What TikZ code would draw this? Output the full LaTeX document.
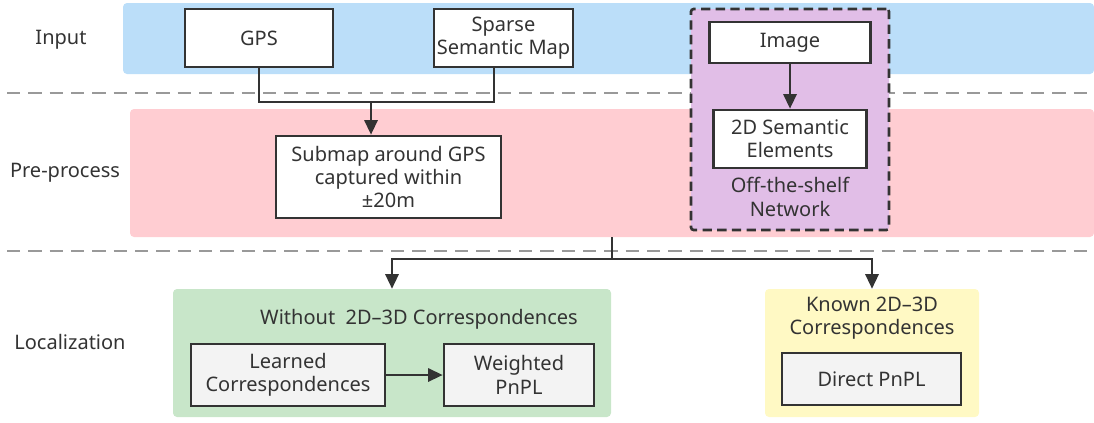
\documentclass[tikz,border=0pt]{standalone}
\usepackage{fontspec}
\setmainfont{Noto Sans}
\usepackage{tikz}
\usetikzlibrary{positioning,arrows.meta,shapes,fit,backgrounds,calc}
\definecolor{inkdark}{HTML}{333333}
\definecolor{sepgray}{HTML}{999999}
\definecolor{inputblue}{HTML}{BBDEF9}
\definecolor{prepink}{HTML}{FFCDD2}
\definecolor{netpurple}{HTML}{E1BEE7}
\definecolor{locgreen}{HTML}{C8E6C9}
\definecolor{knownyellow}{HTML}{FFF9C4}
\definecolor{boxgray}{HTML}{F3F3F3}

\tikzset{
  band/.style={fill=#1,draw=none,rounded corners=3pt,inner sep=0pt},
  stagebox/.style={draw=inkdark,line width=2pt,fill=white,align=center,
        inner sep=2pt,text=inkdark},
  graybox/.style={stagebox,fill=boxgray},
  conn/.style={draw=inkdark,line width=1.7pt},
  arr/.style={conn,-{Triangle[length=11pt,width=10pt]}},
  sepline/.style={draw=sepgray,line width=1.1pt,dash pattern=on 10pt off 6pt},
  lbl/.style={text=inkdark,align=center}
}

\begin{document}
\begin{tikzpicture}[x=0.75pt,y=-0.75pt,font=\fontsize{15}{17.5}\selectfont]
  \useasboundingbox (0,0) rectangle (1094,422);

  % stage bands
  \node[band=inputblue,minimum width=728.25pt,minimum height=53.25pt] (inp) at (608.5,38.5) {};
  \node[band=prepink,minimum width=723pt,minimum height=96pt] (pre) at (612,173) {};
  \draw[sepline] (7,93) -- (1094,93);
  \draw[sepline] (7,251) -- (1094,251);
  \node[band=locgreen,minimum width=328.5pt,minimum height=96pt] (wo) at (392,353) {};
  \node[band=knownyellow,minimum width=160.5pt,minimum height=96pt] (kn) at (872,353) {};
  \node[fill=netpurple,draw=inkdark,line width=2pt,dash pattern=on 7pt off 4pt,
        rounded corners=2pt,minimum width=148.5pt,minimum height=165.75pt] (net) at (790,119.5) {};

  % stage labels
  \node[lbl] (inplbl) at (61,40) {Input};
  \node[lbl] (prelbl) at (65,173) {Pre-process};
  \node[lbl] (loclbl) at (70,342) {Localization};

  % input
  \node[stagebox,minimum width=111pt,minimum height=43.5pt] (gps) at (259,38) {GPS};
  \node[stagebox,minimum width=101.25pt,minimum height=43.5pt] (map) at (503.5,38) {Sparse\\Semantic Map};
  \node[stagebox,minimum width=120.75pt,minimum height=30.75pt] (img) at (790,42.5) {Image};

  % pre-process
  \node[stagebox,minimum width=168.75pt,minimum height=61.5pt] (sub) at (388.5,177)
       {Submap around GPS\\captured within\\±20m};
  \node[stagebox,minimum width=114.75pt,minimum height=43.5pt] (sem) at (790,139)
       {2D Semantic\\Elements};
  \node[lbl] (netlbl) at (790,197) {Off-the-shelf\\Network};

  % localization
  \node[lbl] (wotitle) at (419,319) {Without\ \ 2D--3D Correspondences};
  \node[graybox,minimum width=145.5pt,minimum height=46.5pt] (lrn) at (288,375)
       {Learned\\Correspondences};
  \node[graybox,minimum width=112.5pt,minimum height=46.5pt] (wpn) at (519,375)
       {Weighted\\PnPL};
  \node[lbl] (kntitle) at (872,318) {Known 2D--3D\\Correspondences};
  \node[graybox,minimum width=134.25pt,minimum height=39pt] (dpn) at (871.5,379)
       {Direct PnPL};

  % connectors
  \coordinate (merge) at (371,102);
  \draw[conn] (gps.south) |- (merge) -| ([xshift=-7pt]map.south);
  \draw[arr] (merge) -- (merge |- sub.north);
  \draw[arr] (img) -- (sem);
  \coordinate (split) at ($(pre.south)+(0,22)$);
  \draw[conn] (pre.south) -- (split);
  \draw[arr] (split) -| (wo.north);
  \draw[arr] (split) -| (kn.north);
  \draw[arr] (lrn) -- (wpn);
\end{tikzpicture}
\end{document}
